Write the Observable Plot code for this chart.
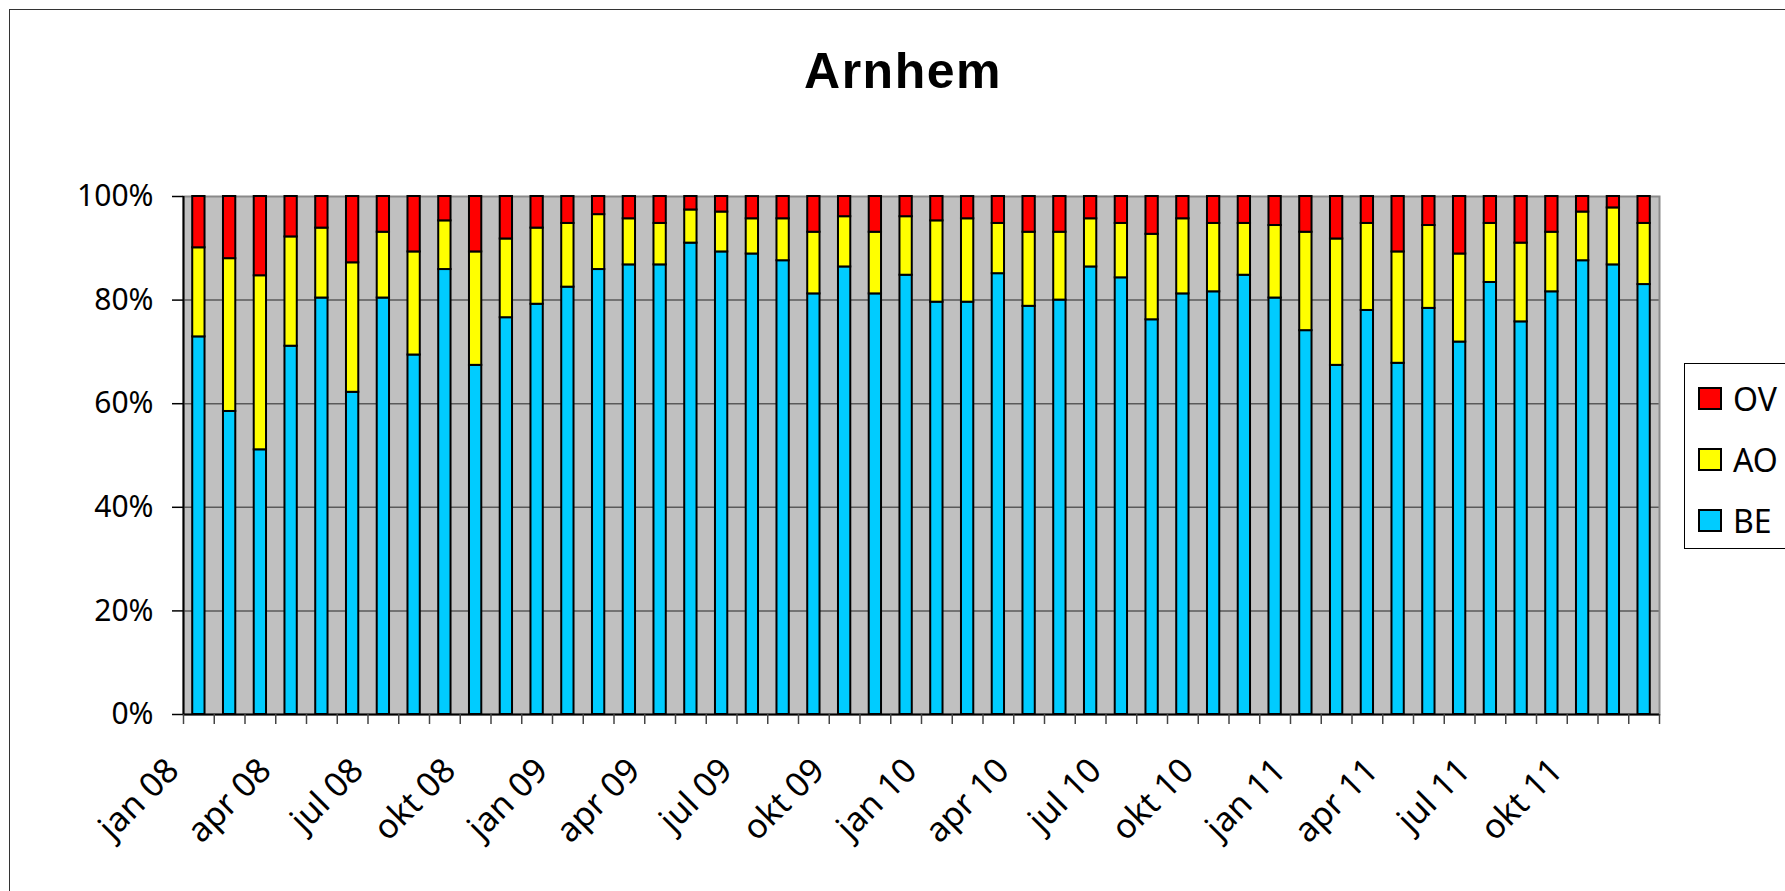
<!DOCTYPE html>
<html>
<head>
<meta charset="utf-8">
<script src="https://cdn.jsdelivr.net/npm/d3@7"></script>
<script src="https://cdn.jsdelivr.net/npm/@observablehq/plot@0.6"></script>
<style>
  html, body { margin: 0; padding: 0; background: #fff; overflow: hidden; }
  body { width: 1785px; height: 891px; position: relative; font-family: "Noto Sans", sans-serif; }
  #frame { position: absolute; left: 9px; top: 9px; width: 1900px; height: 1000px; border: 1.5px solid #333; box-sizing: border-box; }
  #title { position: absolute; left: 0; width: 1806px; top: 42px; text-align: center; font: bold 50px "Liberation Sans", Arial, sans-serif; letter-spacing: 1.5px; color: #000; }
  #chart { position: absolute; left: 0; top: 0; }
  #legend { position: absolute; left: 1684px; top: 363px; width: 200px; height: 186px; border: 1.5px solid #000; box-sizing: border-box; background: #fff; }
  .item { position: absolute; left: 13px; height: 30px; display: flex; align-items: center; font: 32px "Noto Sans", sans-serif; color: #000; }
  .sw { width: 24px; height: 23px; border: 2px solid #000; box-sizing: border-box; margin-right: 11px; }
</style>
</head>
<body>
<div id="frame"></div>
<div id="title">Arnhem</div>
<div id="chart"></div>
<div id="legend"></div>
<script>
// ---- data ----
const monthNames = ["jan","feb","mrt","apr","mei","jun","jul","aug","sep","okt","nov","dec"];
const years = ["08","09","10","11"];
const tickLabels = ["jan 08","apr 08","jul 08","okt 08","jan 09","apr 09","jul 09","okt 09",
                    "jan 10","apr 10","jul 10","okt 10","jan 11","apr 11","jul 11","okt 11"];
const yTicks = [0, 20, 40, 60, 80, 100];
const seriesNames = ["BE", "AO", "OV"];
const seriesColors = ["#00CCFF", "#FFFF00", "#FF0000"];
const legendOrder = ["OV", "AO", "BE"];

const BE = [72.9, 58.5, 51.1, 71.1, 80.4, 62.2, 80.4, 69.4, 85.9, 67.4, 76.6, 79.2,
            82.5, 85.9, 86.8, 86.8, 91.0, 89.3, 88.9, 87.6, 81.2, 86.4, 81.2, 84.8,
            79.6, 79.6, 85.1, 78.8, 80.0, 86.4, 84.3, 76.2, 81.2, 81.6, 84.8, 80.4,
            74.1, 67.4, 78.0, 67.8, 78.4, 71.9, 83.4, 75.8, 81.6, 87.6, 86.8, 83.0];
const AO = [17.2, 29.5, 33.6, 21.1, 13.5, 25.0, 12.7, 19.9, 9.4, 21.9, 15.2, 14.7,
            12.3, 10.6, 8.9, 8.0, 6.4, 7.7, 6.8, 8.1, 11.9, 9.7, 11.9, 11.3,
            15.7, 16.1, 9.7, 14.3, 13.1, 9.3, 10.5, 16.5, 14.5, 13.2, 10.0, 14.0,
            19.0, 24.4, 16.8, 21.5, 16.0, 17.0, 11.4, 15.2, 11.5, 9.4, 11.0, 11.8];
const OV = [9.9, 12.0, 15.3, 7.8, 6.1, 12.8, 6.9, 10.7, 4.7, 10.7, 8.2, 6.1,
            5.2, 3.5, 4.3, 5.2, 2.6, 3.0, 4.3, 4.3, 6.9, 3.9, 6.9, 3.9,
            4.7, 4.3, 5.2, 6.9, 6.9, 4.3, 5.2, 7.3, 4.3, 5.2, 5.2, 5.6,
            6.9, 8.2, 5.2, 10.7, 5.6, 11.1, 5.2, 9.0, 6.9, 3.0, 2.2, 5.2];

// ---- build table ----
const categories = years.flatMap(y => monthNames.map(m => `${m} ${y}`));
const valuesBySeries = {BE, AO, OV};
const data = categories.flatMap((c, i) =>
  seriesNames.map(s => ({month: c, series: s, value: valuesBySeries[s][i]})));

// ---- layout ----
const W = 1680, H = 891;
const mL = 183, mR = 21, mT = 196, mB = 177;
const step = (W - mL - mR) / categories.length;

const chart = Plot.plot({
  width: W,
  height: H,
  marginLeft: mL,
  marginRight: mR,
  marginTop: mT,
  marginBottom: mB,
  style: {background: "transparent", fontFamily: "Noto Sans, sans-serif", fontSize: "30px", overflow: "visible"},
  x: {type: "band", domain: categories, paddingInner: 0.6, paddingOuter: 0.3, axis: null, label: null},
  y: {domain: [0, 100], axis: null, label: null},
  color: {domain: seriesNames, range: seriesColors},
  marks: [
    Plot.frame({fill: "#C0C0C0"}),
    Plot.ruleY(yTicks.filter(d => d > 0 && d < 100), {stroke: "#5a5a5a", strokeWidth: 1.5}),
    Plot.frame({stroke: "#8a8a8a", strokeWidth: 2}),
    Plot.barY(data, {x: "month", y: "value", fill: "series", order: seriesNames, stroke: "#000", strokeWidth: 2}),
    Plot.ruleY([0], {stroke: "#000", strokeWidth: 2}),
    Plot.ruleX([categories[0]], {dx: -step / 2, stroke: "#000", strokeWidth: 2}),
    Plot.axisY({ticks: yTicks, tickFormat: d => `${d}%`, label: null, tickSize: 11, tickPadding: 19, fontSize: 30, stroke: "#000", strokeWidth: 1.5, fill: "#000"}),
    Plot.axisX({ticks: categories, tickFormat: () => "", label: null, tickSize: 10, dx: -step / 2, stroke: "#444", strokeWidth: 1.5}),
    Plot.axisX({ticks: [categories[categories.length - 1]], tickFormat: () => "", label: null, tickSize: 10, dx: step / 2, stroke: "#444", strokeWidth: 1.5}),
    Plot.text(tickLabels, {x: d => d, frameAnchor: "bottom", rotate: -45, textAnchor: "end", lineAnchor: "bottom", dx: -18, dy: 58, fontSize: 34, fill: "#000"})
  ]
});
document.getElementById("chart").appendChild(chart);

// ---- legend ----
const legend = document.getElementById("legend");
const centers = [34, 95, 156];
legendOrder.forEach((s, k) => {
  const it = document.createElement("div");
  it.className = "item";
  it.style.top = (centers[k] - 15) + "px";
  const sw = document.createElement("div");
  sw.className = "sw";
  sw.style.background = seriesColors[seriesNames.indexOf(s)];
  const tx = document.createElement("span");
  tx.textContent = s;
  it.appendChild(sw);
  it.appendChild(tx);
  legend.appendChild(it);
});
</script>
</body>
</html>
